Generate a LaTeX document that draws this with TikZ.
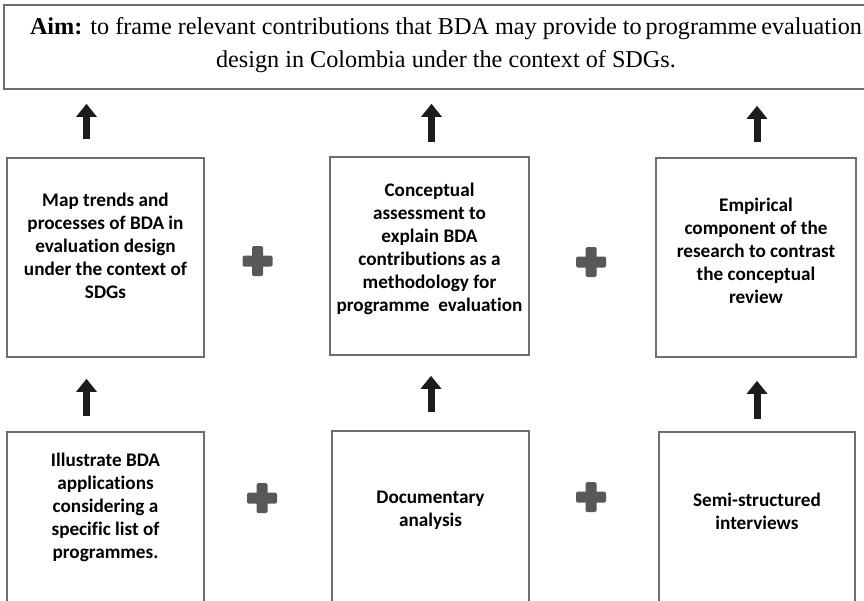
\documentclass[tikz,border=0pt]{standalone}
\usepackage{fontspec}
\setmainfont{Liberation Serif}
\newfontfamily\boxfont[Ligatures=NoCommon]{Carlito}
\usetikzlibrary{arrows.meta}
\definecolor{boxgray}{HTML}{6E6E6E}
\definecolor{arrowdark}{HTML}{1C1C1C}
\definecolor{plusgray}{HTML}{585858}
\tikzset{
  framebox/.style={draw=boxgray, line width=1.6pt, fill=white, inner sep=0pt},
  boxtext/.style={font=\boxfont\bfseries\fontsize{19.2}{23}\selectfont, align=center, inner sep=0pt, text=black},
  uparrow/.style={draw=arrowdark, line width=7pt, -{Triangle[width=20pt,length=13pt]}},
  plussign/.style={minimum size=30pt, inner sep=0pt, path picture={
     \fill[plusgray, rounded corners=1.5pt] ([xshift=-15pt,yshift=-5.5pt]path picture bounding box.center) rectangle ([xshift=15pt,yshift=5.5pt]path picture bounding box.center);
     \fill[plusgray, rounded corners=1.5pt] ([xshift=-5.5pt,yshift=-15pt]path picture bounding box.center) rectangle ([xshift=5.5pt,yshift=15pt]path picture bounding box.center);
  }}
}
\begin{document}
\begin{tikzpicture}[x=1pt,y=-1pt]
\useasboundingbox (0,0) rectangle (864,600);
\clip (0,0) rectangle (864,600);
\fill[white] (0,0) rectangle (864,600);

% aim box
\node[framebox, minimum width=872pt, minimum height=84pt] (aim) at (440,47) {};
\node[font=\fontsize{24.2}{33}\selectfont, align=center, inner sep=0pt] (aimtext) at (446,45)
  {\textbf{Aim:} to frame relevant contributions that BDA may provide to\,programme\,evaluation\\design in Colombia under the context of SDGs.};

% middle row
\node[framebox, minimum width=197pt, minimum height=199pt] (m1) at (105.5,257.5) {};
\node[framebox, minimum width=199pt, minimum height=198pt] (m2) at (429.5,256) {};
\node[framebox, minimum width=200pt, minimum height=199pt] (m3) at (756,257.5) {};
\node[boxtext] (m1t) at (105.5,246) {Map trends and\\processes of BDA in\\evaluation design\\under the context of\\SDGs};
\node[boxtext] (m2t) at (429.5,249) {Conceptual\\assessment to\\explain BDA\\contributions as a\\methodology for\\programme\ \ evaluation};
\node[boxtext] (m3t) at (756,251) {Empirical\\component of the\\research to contrast\\the conceptual\\review};

% bottom row
\node[framebox, minimum width=197pt, minimum height=199pt] (b1) at (105.5,531.5) {};
\node[framebox, minimum width=197pt, minimum height=199pt] (b2) at (430.5,530.5) {};
\node[framebox, minimum width=196pt, minimum height=199pt] (b3) at (757,531.5) {};
\node[boxtext] (b1t) at (105.5,507) {Illustrate BDA\\applications\\considering a\\specific list of\\programmes.};
\node[boxtext] (b2t) at (430.5,510) {Documentary\\analysis};
\node[boxtext] (b3t) at (757,511) {Semi-structured\\interviews};

% plus signs
\node[plussign] (p1) at (257.5,261) {};
\node[plussign] (p2) at (591,262) {};
\node[plussign] (p3) at (262,498) {};
\node[plussign] (p4) at (591,497) {};

% arrows bottom -> middle
\coordinate (s1) at ([xshift=-19pt]b1.north);
\coordinate (s2) at ([xshift=0.5pt]b2.north);
\coordinate (s3) at ([xshift=0pt]b3.north);
\draw[uparrow, shorten <=15pt, shorten >=21pt] (s1) -- (s1 |- m1.south);
\draw[uparrow, shorten <=18pt, shorten >=20pt] (s2) -- (s2 |- m2.south);
\draw[uparrow, shorten <=12pt, shorten >=23pt] (s3) -- (s3 |- m3.south);

% arrows middle -> aim
\coordinate (u1) at ([xshift=-19pt]m1.north);
\coordinate (u2) at ([xshift=2pt]m2.north);
\coordinate (u3) at ([xshift=1pt]m3.north);
\draw[uparrow, shorten <=18pt, shorten >=14pt] (u1) -- (u1 |- aim.south);
\draw[uparrow, shorten <=14pt, shorten >=14pt] (u2) -- (u2 |- aim.south);
\draw[uparrow, shorten <=15pt, shorten >=16pt] (u3) -- (u3 |- aim.south);
\end{tikzpicture}
\end{document}
